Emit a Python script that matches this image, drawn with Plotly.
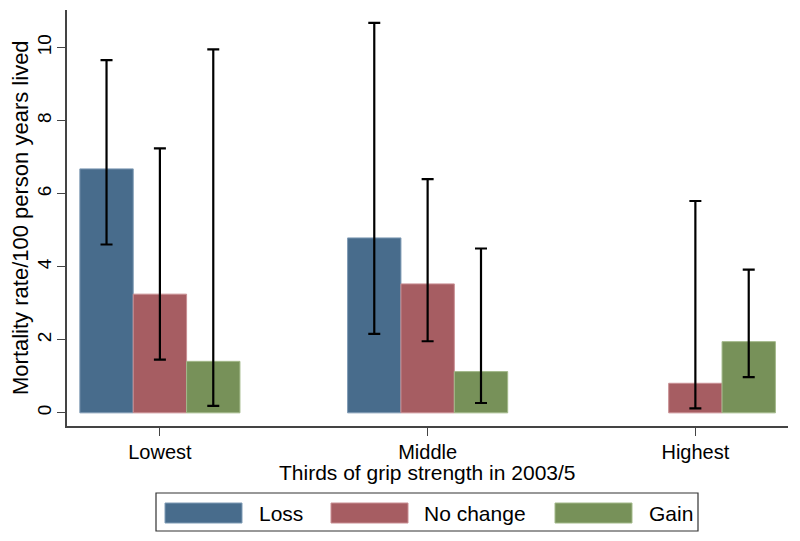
import plotly.graph_objects as go

# ---- data ----
categories = ["Lowest", "Middle", "Highest"]
series_names = ["Loss", "No change", "Gain"]
loss_rate = [6.68, 4.79, None]
loss_hi = [9.66, 10.68, None]
loss_lo = [4.61, 2.16, None]
nochange_rate = [3.25, 3.53, 0.81]
nochange_hi = [7.24, 6.40, 5.80]
nochange_lo = [1.46, 1.96, 0.12]
gain_rate = [1.41, 1.13, 1.95]
gain_hi = [9.95, 4.50, 3.92]
gain_lo = [0.19, 0.27, 0.98]
y_ticks = [0, 2, 4, 6, 8, 10]
x_title = "Thirds of grip strength in 2003/5"
y_title = "Mortality rate/100 person years lived"

# ---- styles ----
fills = ["#486c8c", "#a65d62", "#779159"]
edges = ["#7f9bb5", "#c98f93", "#a3b98a"]
FONT = "Liberation Sans, Arial, Helvetica, sans-serif"
OFF = 8                      # default page body margin
W, H = 800 - OFF, 541 - OFF
# plot area in screen pixels: x 67..788, y 10..426
L, T = 67 - OFF, 10 - OFF
R = W - L - 721
B = H - T - 416


def px_x(p):
    return (p - OFF - L) / (W - L - R)


def px_y(p):
    return (H - B - (p - OFF)) / (H - T - B)


def plus(vals, hi):
    return [None if v is None else h - v for v, h in zip(vals, hi)]


def minus(vals, lo):
    return [None if v is None else v - l for v, l in zip(vals, lo)]


fig = go.Figure()
for name, vals, hi, lo, fc, ec in [
    ("Loss", loss_rate, loss_hi, loss_lo, fills[0], edges[0]),
    ("No change", nochange_rate, nochange_hi, nochange_lo, fills[1], edges[1]),
    ("Gain", gain_rate, gain_hi, gain_lo, fills[2], edges[2]),
]:
    fig.add_trace(go.Bar(
        x=list(range(len(categories))), y=vals, name=name,
        marker=dict(color=fc, line=dict(color=ec, width=1)),
        error_y=dict(type="data", array=plus(vals, hi), arrayminus=minus(vals, lo),
                     color="black", thickness=2.2, width=6, visible=True),
        showlegend=False,
    ))

fig.update_layout(
    width=W, height=H,
    margin=dict(l=L, r=R, t=T, b=B, autoexpand=False),
    paper_bgcolor="white", plot_bgcolor="white",
    barmode="group", bargap=0.402, bargroupgap=0,
    font=dict(family=FONT, color="black"),
)
fig.update_xaxes(
    tickmode="array", tickvals=list(range(len(categories))), ticktext=categories,
    range=[-0.347, 2.346], showgrid=False, zeroline=False, automargin=False,
    showline=True, linecolor="#444444", linewidth=1.5,
    ticks="outside", ticklen=8, tickwidth=1.2, tickcolor="#444444",
    ticklabelstandoff=-1,
    tickfont=dict(size=20, family=FONT),
)
fig.update_yaxes(
    tickmode="array", tickvals=y_ticks, range=[-0.36, 11.03],
    showgrid=False, zeroline=False, automargin=False,
    showline=True, linecolor="#444444", linewidth=1.5,
    ticks="outside", ticklen=8, tickwidth=1.2, tickcolor="#444444",
    ticklabelstandoff=-1,
    tickangle=-90, tickfont=dict(size=19, family=FONT),
)

annotations = [
    dict(xref="paper", yref="paper", x=0.5, y=px_y(472), xanchor="center", yanchor="middle",
         showarrow=False, text=x_title, font=dict(size=21, family=FONT, color="black")),
    dict(xref="paper", yref="paper", x=px_x(20), y=0.5, xanchor="center", yanchor="middle",
         showarrow=False, textangle=-90, text=y_title,
         font=dict(size=22, family=FONT, color="black")),
]

# ---- custom legend (Stata style) ----
shapes = [dict(type="rect", xref="paper", yref="paper",
               x0=px_x(156), x1=px_x(698), y0=px_y(531), y1=px_y(493),
               line=dict(color="#333333", width=1.2), fillcolor="white")]
sw_left = [165, 331, 555]
lab_left = [257, 422, 647]
for i, name in enumerate(series_names):
    shapes.append(dict(type="rect", xref="paper", yref="paper",
                       x0=px_x(sw_left[i]), x1=px_x(sw_left[i] + 77),
                       y0=px_y(523), y1=px_y(503),
                       line=dict(color=edges[i], width=1), fillcolor=fills[i]))
    annotations.append(dict(xref="paper", yref="paper", x=px_x(lab_left[i]), y=px_y(513),
                            xanchor="left", yanchor="middle", showarrow=False,
                            text=name, font=dict(size=21, family=FONT, color="black")))
fig.update_layout(shapes=shapes, annotations=annotations)

fig.write_html("out.html")
